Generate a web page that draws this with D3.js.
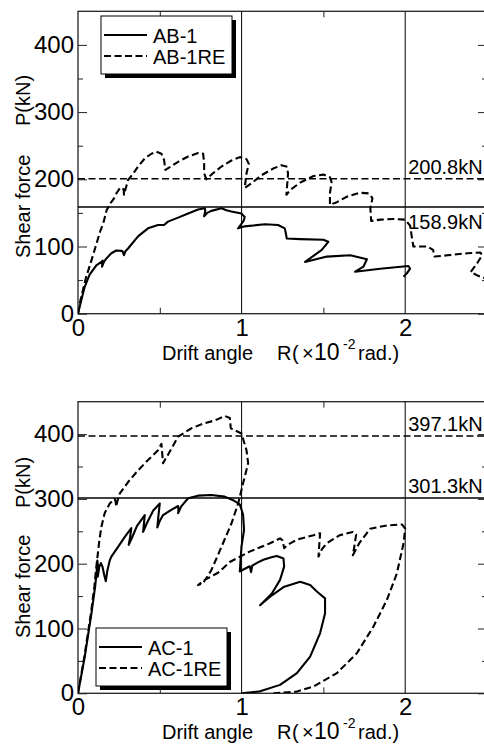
<!DOCTYPE html>
<html>
<head>
<meta charset="utf-8">
<script src="https://cdn.jsdelivr.net/npm/d3@7"></script>
<style>
  body { margin: 0; background: #fff; }
  svg text { font-family: "Liberation Sans", Arial, sans-serif; fill: #000; }
</style>
</head>
<body>
<div id="chart"></div>
<script>
"use strict";
//drift angle R (x10^-2 rad.) vs shear force P (kN)
var ab1 = [
  [0, 0], [0.02, 20], [0.041, 40], [0.071, 58], [0.112, 72], [0.143, 77],
  [0.15, 79], [0.147, 70], [0.16, 78], [0.173, 82], [0.204, 90], [0.234, 94],
  [0.265, 93.5], [0.272, 93], [0.281, 87], [0.29, 93], [0.306, 97], [0.367, 115],
  [0.428, 127], [0.489, 132], [0.526, 132], [0.55, 137], [0.612, 143], [0.673, 149],
  [0.734, 155], [0.775, 157], [0.778, 153], [0.771, 145], [0.79, 150], [0.815, 153],
  [0.877, 157], [0.907, 154], [0.938, 152], [0.999, 149], [1.019, 144], [1.012, 138],
  [0.979, 127], [1.019, 130], [1.142, 133], [1.223, 132], [1.264, 127], [1.27, 120],
  [1.276, 112], [1.358, 111], [1.5, 110], [1.53, 107], [1.49, 95], [1.388, 77],
  [1.521, 85], [1.664, 87], [1.766, 81], [1.745, 70], [1.694, 62.5], [1.847, 67],
  [2.02, 71], [2.03, 67], [2.01, 60], [1.99, 55]
];

var ab1re = [
  [0, 0], [0.015, 20], [0.033, 38], [0.05, 55], [0.073, 72], [0.114, 105],
  [0.135, 122], [0.155, 135], [0.175, 154], [0.2, 165], [0.216, 170], [0.237, 180],
  [0.257, 187], [0.275, 187], [0.28, 183], [0.281, 177], [0.29, 185], [0.306, 199],
  [0.336, 208], [0.367, 219], [0.408, 231], [0.449, 238], [0.479, 241], [0.51, 238],
  [0.526, 229], [0.534, 214], [0.561, 218], [0.612, 226], [0.673, 234], [0.734, 239],
  [0.765, 238], [0.771, 224], [0.771, 209], [0.785, 200], [0.82, 208], [0.877, 219],
  [0.938, 228], [0.989, 233], [1.03, 230], [1.044, 223], [1.03, 209], [1.019, 187],
  [1.06, 194], [1.121, 206], [1.193, 216], [1.244, 221], [1.274, 219], [1.284, 209],
  [1.274, 177], [1.297, 184], [1.358, 195], [1.44, 205], [1.5, 207], [1.54, 203],
  [1.55, 196], [1.54, 179], [1.54, 162], [1.582, 166], [1.643, 174], [1.725, 180],
  [1.776, 179], [1.8, 172], [1.787, 157], [1.792, 138], [1.85, 140], [1.93, 141],
  [2.0, 140], [2.03, 131], [2.04, 115], [2.05, 100], [2.137, 100], [2.17, 95],
  [2.18, 85], [2.26, 87], [2.38, 90], [2.46, 91], [2.47, 87], [2.44, 75], [2.4, 62],
  [2.45, 56], [2.5, 52]
];

var ac1 = [
  [0, 0], [0.041, 56], [0.082, 123], [0.105, 165], [0.115, 190], [0.118, 205],
  [0.124, 192], [0.121, 180], [0.13, 195], [0.14, 201], [0.15, 195], [0.16, 183],
  [0.17, 173], [0.18, 190], [0.194, 205], [0.204, 211], [0.245, 226], [0.285, 241],
  [0.326, 255], [0.318, 240], [0.31, 229], [0.33, 240], [0.36, 258], [0.408, 275],
  [0.403, 262], [0.398, 249], [0.42, 262], [0.46, 282], [0.5, 293], [0.492, 275],
  [0.485, 256], [0.5, 266], [0.52, 275], [0.57, 283], [0.612, 289], [0.614, 282],
  [0.612, 278], [0.63, 288], [0.673, 301], [0.734, 305], [0.815, 306], [0.897, 303.5],
  [0.948, 298], [0.989, 291.5], [1.009, 276], [1.015, 252], [0.999, 226], [0.989, 188],
  [1.011, 191], [1.05, 196], [1.058, 187], [1.065, 197], [1.1, 202], [1.133, 206],
  [1.182, 210], [1.215, 212], [1.256, 208], [1.26, 195.5], [1.235, 175], [1.185, 154],
  [1.113, 136], [1.174, 149], [1.256, 164], [1.358, 172], [1.419, 167], [1.46, 157],
  [1.51, 146.5], [1.51, 123], [1.48, 93], [1.419, 56.5], [1.338, 31], [1.235, 13],
  [1.113, 3], [1.0, 0]
];

var ac1re = [
  [0, 0], [0.041, 60], [0.08, 125], [0.1, 165], [0.112, 195], [0.13, 235],
  [0.143, 257], [0.163, 278], [0.194, 293], [0.224, 300], [0.23, 296], [0.234, 288],
  [0.24, 296], [0.255, 308], [0.306, 326], [0.367, 344], [0.428, 360], [0.489, 375],
  [0.51, 385], [0.515, 370], [0.52, 355], [0.535, 362], [0.55, 368], [0.612, 396],
  [0.693, 409], [0.775, 417], [0.836, 421], [0.897, 428], [0.928, 425], [0.934, 409],
  [0.958, 406], [0.999, 401], [1.03, 375], [1.04, 355], [1.009, 324], [0.979, 293],
  [0.938, 262], [0.877, 226], [0.815, 190], [0.765, 170], [0.734, 167], [0.775, 175],
  [0.856, 186], [0.93, 203], [1.052, 219], [1.174, 231.5], [1.235, 239], [1.25, 236],
  [1.26, 224], [1.28, 229], [1.338, 237], [1.44, 244], [1.48, 247], [1.475, 230],
  [1.47, 211], [1.49, 222], [1.52, 231.5], [1.6, 244], [1.68, 249], [1.7, 245],
  [1.69, 228], [1.68, 213], [1.72, 232], [1.786, 254], [1.888, 259], [1.98, 260.6],
  [2.0, 254], [1.99, 231.5], [1.949, 185], [1.888, 144], [1.806, 103], [1.705, 62],
  [1.582, 31], [1.44, 10.6], [1.338, 2.6], [1.195, 0]
];

var xTicks = [0, 1, 2],
  xMinor = [0.5, 1.5],
  xGrid = [1, 2];
var yTicks = [0, 100, 200, 300, 400],
  yMinor = [50, 150, 250, 350];

//first value is the dashed line, second the solid one
var refsAB = [200.8, 158.9],
  refsAC = [397.1, 301.3];

var namesAB = ["AB-1", "AB-1RE"],
  namesAC = ["AC-1", "AC-1RE"];

var w = 484,
  h = 744,
  dash = "7,3.5";

var svg = d3
  .select("#chart")
  .append("svg")
  .attr("width", w)
  .attr("height", h);

var x = d3.scaleLinear().domain([0, 2.5]).range([78, 487]);

var line = d3.line();

function drawPanel(p, idx) {
  var y = d3.scaleLinear().domain([0, 450]).range([p.bottom, p.top]);
  var g = svg.append("g");

  g.append("clipPath")
    .attr("id", "clip" + idx)
    .append("rect")
    .attr("x", x(0))
    .attr("y", y(450))
    .attr("width", x(2.5) - x(0))
    .attr("height", y(0) - y(450));

  //frame
  g.append("rect")
    .attr("x", x(0))
    .attr("y", y(450))
    .attr("width", x(2.5) - x(0))
    .attr("height", y(0) - y(450))
    .attr("fill", "none")
    .attr("stroke", "#222")
    .attr("stroke-width", 1.3);

  //vertical grid at 1 and 2
  g.selectAll(".grid")
    .data(xGrid)
    .enter()
    .append("line")
    .attr("x1", function(d) { return x(d); })
    .attr("x2", function(d) { return x(d); })
    .attr("y1", y(0))
    .attr("y2", y(450))
    .attr("stroke", "#000")
    .attr("stroke-width", 1);

  function noDomain(s) {
    s.select(".domain").remove();
    s.attr("font-family", null).attr("font-size", 24);
  }

  g.append("g")
    .attr("transform", "translate(" + x(0) + ",0)")
    .call(d3.axisLeft(y).tickValues(yTicks).tickSizeInner(-9).tickSizeOuter(0).tickPadding(4))
    .call(noDomain);
  g.append("g")
    .attr("transform", "translate(" + x(0) + ",0)")
    .call(d3.axisLeft(y).tickValues(yMinor).tickFormat("").tickSizeInner(-5).tickSizeOuter(0))
    .call(noDomain);
  g.append("g")
    .attr("transform", "translate(" + x(2.5) + ",0)")
    .call(d3.axisRight(y).tickValues(yTicks).tickFormat("").tickSizeInner(-9).tickSizeOuter(0))
    .call(noDomain);
  g.append("g")
    .attr("transform", "translate(" + x(2.5) + ",0)")
    .call(d3.axisRight(y).tickValues(yMinor).tickFormat("").tickSizeInner(-5).tickSizeOuter(0))
    .call(noDomain);
  g.append("g")
    .attr("transform", "translate(0," + y(0) + ")")
    .call(d3.axisBottom(x).tickValues(xTicks).tickFormat(d3.format("d")).tickSizeInner(0).tickSizeOuter(0).tickPadding(5))
    .call(noDomain);
  g.append("g")
    .attr("transform", "translate(0," + y(0) + ")")
    .call(d3.axisBottom(x).tickValues(xMinor).tickFormat("").tickSizeInner(-6).tickSizeOuter(0))
    .call(noDomain);
  g.append("g")
    .attr("transform", "translate(0," + y(450) + ")")
    .call(d3.axisTop(x).tickValues(xMinor).tickFormat("").tickSizeInner(-6).tickSizeOuter(0))
    .call(noDomain);
  g.selectAll(".tick line").attr("stroke", "#222");

  //horizontal reference lines with their values
  p.refs.forEach(function(v, i) {
    g.append("line")
      .attr("x1", x(0))
      .attr("x2", x(2.5))
      .attr("y1", y(v))
      .attr("y2", y(v))
      .attr("stroke", "#000")
      .attr("stroke-width", 1.5)
      .attr("stroke-dasharray", i == 0 ? dash : null);
    g.append("text")
      .attr("x", x(2) + 3)
      .attr("y", y(v) + p.refDy[i])
      .attr("font-size", 20)
      .text(v.toFixed(1) + "kN");
  });

  //curves
  var curves = g.append("g").attr("clip-path", "url(#clip" + idx + ")");
  p.series.forEach(function(s, i) {
    curves.append("path")
      .attr("d", line(s.map(function(d) { return [x(d[0]), y(d[1])]; })))
      .attr("fill", "none")
      .attr("stroke", "#000")
      .attr("stroke-width", 2.1)
      .attr("stroke-linejoin", "round")
      .attr("stroke-dasharray", i == 1 ? dash : null);
  });

  //legend with drop shadow
  var lg = g.append("g").attr("transform", "translate(" + p.legend[0] + "," + p.legend[1] + ")");
  lg.append("rect").attr("x", 4).attr("y", 4).attr("width", 131).attr("height", 58).attr("fill", "#000");
  lg.append("rect")
    .attr("width", 131)
    .attr("height", 58)
    .attr("fill", "#fff")
    .attr("stroke", "#000")
    .attr("stroke-width", 1);
  p.names.forEach(function(n, i) {
    lg.append("line")
      .attr("x1", 3)
      .attr("x2", 46)
      .attr("y1", 19 + i * 21)
      .attr("y2", 19 + i * 21)
      .attr("stroke", "#000")
      .attr("stroke-width", 2)
      .attr("stroke-dasharray", i == 1 ? dash : null);
    lg.append("text")
      .attr("x", 52)
      .attr("y", 27 + i * 21)
      .attr("font-size", 20)
      .text(n);
  });

  //axis titles
  var xt = g.append("text").attr("y", p.bottom + 46).attr("font-size", 20);
  xt.append("tspan").attr("x", 162).text("Drift angle");
  xt.append("tspan").attr("x", 277).text("R");
  xt.append("tspan").attr("x", 292).text("(");
  xt.append("tspan").attr("x", 302).text("\u00d7");
  xt.append("tspan").attr("x", 314).attr("font-size", 23).text("10");
  xt.append("tspan").attr("x", 343).attr("dy", -11).attr("font-size", 14).text("-2");
  xt.append("tspan").attr("x", 358).attr("dy", 11).text("rad.)");

  var yt = g.append("text")
    .attr("transform", "translate(30,0) rotate(-90)")
    .attr("font-size", 20);
  yt.append("tspan").attr("x", -p.yTitle[0]).text("Shear force");
  yt.append("tspan").attr("x", -p.yTitle[1]).text("P(kN)");
}

drawPanel({
  top: 11.3, bottom: 313.7,
  series: [ab1, ab1re], names: namesAB, refs: refsAB,
  refDy: [-5, 22], legend: [101, 16], yTitle: [258, 126]
}, 0);

drawPanel({
  top: 401.7, bottom: 693.3,
  series: [ac1, ac1re], names: namesAC, refs: refsAC,
  refDy: [-5, -5], legend: [96, 628], yTitle: [638, 508]
}, 1);
</script>
</body>
</html>
